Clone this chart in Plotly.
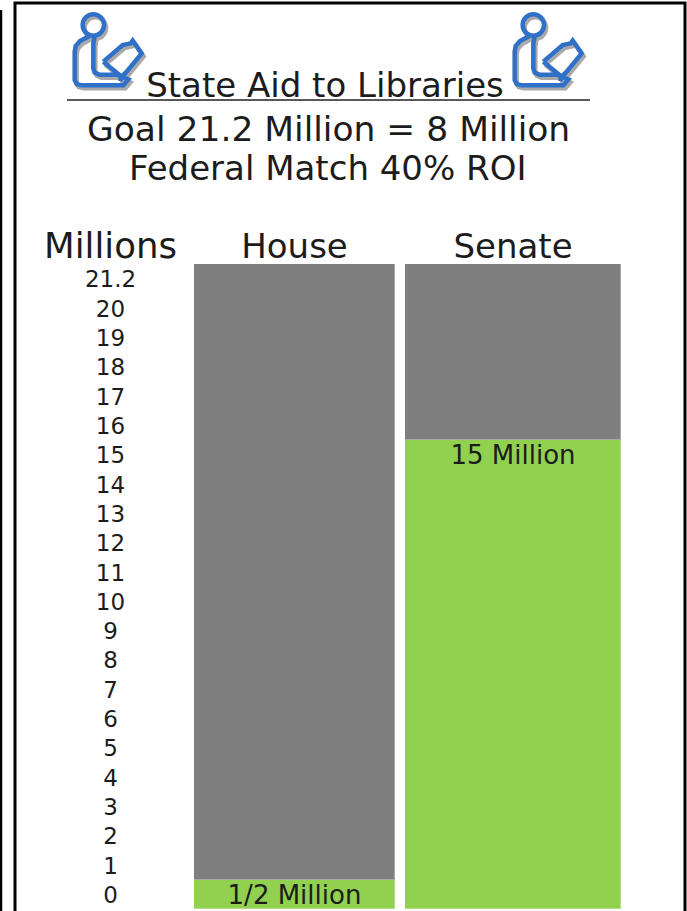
import plotly.graph_objects as go

# Funding ladder: one row per tick, bottom to top
tick_labels = ["0", "1", "2", "3", "4", "5", "6", "7", "8", "9", "10", "11", "12",
               "13", "14", "15", "16", "17", "18", "19", "20", "21.2"]
tick_values = [0, 1, 2, 3, 4, 5, 6, 7, 8, 9, 10, 11, 12,
               13, 14, 15, 16, 17, 18, 19, 20, 21.2]
chambers = ["House", "Senate"]
funded_millions = [0.5, 15]
funded_labels = ["1/2 Million", "15 Million"]

W, H = 687, 911
FONT = "DejaVu Sans"
INK = "#1c1c1c"
GREEN = "#92d050"
GREY = "#7f7f7f"
BLUE = "#2f70c8"
SHADOW = "#a9a9a9"


def px(x):
    return x / W


def py(y):
    return 1 - y / H


# A row is filled once its tick is covered by the funded amount
filled_rows = [sum(t <= v for t in tick_values) for v in funded_millions]
empty_rows = [len(tick_values) - n for n in filled_rows]
row_count = len(tick_labels)

fig = go.Figure()
x_refs = ["x", "x2"]
for i, name in enumerate(chambers):
    fig.add_bar(x=[name], y=[filled_rows[i]], xaxis=x_refs[i], yaxis="y",
                marker=dict(color=GREEN, line=dict(color="#b4de80", width=1)),
                showlegend=False, hoverinfo="skip")
    fig.add_bar(x=[name], y=[empty_rows[i]], xaxis=x_refs[i], yaxis="y",
                marker=dict(color=GREY, line=dict(color="#a8a8a8", width=1)),
                showlegend=False, hoverinfo="skip")
    fig.add_scatter(x=[name], y=[filled_rows[i] - 0.5], xaxis=x_refs[i], yaxis="y2",
                    mode="text", text=[funded_labels[i]], textposition="middle center",
                    textfont=dict(family=FONT, size=26, color=INK),
                    showlegend=False, hoverinfo="skip")

# Row labels sit in their own centred column
fig.add_scatter(x=["Millions"] * row_count,
                y=[r + 0.5 for r in range(row_count)],
                xaxis="x3", yaxis="y2", mode="text", text=tick_labels,
                textposition="middle center",
                textfont=dict(family=FONT, size=23, color=INK),
                showlegend=False, hoverinfo="skip")


def column_axis(left, right, size=34):
    return dict(domain=[px(left), px(right)], anchor="y", side="top", type="category",
                showgrid=False, zeroline=False, showline=False, ticks="",
                ticklen=0, fixedrange=True, ticklabelstandoff=-2,
                tickfont=dict(family=FONT, size=size, color=INK))


def to_page(points):
    return [(60 + a / 3, 10 + b / 3) for a, b in points]


def polyline(points, dx=0, dy=0):
    return "M " + " L ".join(f"{px(a + dx):.5f},{py(b + dy):.5f}" for a, b in to_page(points))


# Reader pictogram outlines
reader_parts = [
    [(88, 78), (60, 93), (47, 108), (44, 125), (44, 210), (50, 222), (65, 226), (190, 226),
     (205, 208), (185, 200), (180, 214)],
    [(104, 78), (100, 100), (100, 175), (104, 188), (118, 194), (172, 194), (185, 200)],
    [(130, 155), (188, 105), (212, 100), (218, 92), (245, 130), (200, 185), (185, 200), (130, 155)],
]
head_centre = (100, 45)
head_radius = 32

shapes = []
for offset in (0, 440):
    for colour, sx, sy in ((SHADOW, 2, 3), (BLUE, 0, 0)):
        for part in reader_parts:
            shapes.append(dict(type="path", xref="paper", yref="paper",
                               path=polyline(part, offset + sx, sy),
                               line=dict(color=colour, width=4.5)))
        cx, cy = to_page([head_centre])[0]
        r = head_radius / 3
        shapes.append(dict(type="circle", xref="paper", yref="paper",
                           x0=px(cx + offset + sx - r), x1=px(cx + offset + sx + r),
                           y0=py(cy + sy + r), y1=py(cy + sy - r),
                           line=dict(color=colour, width=4.5)))

# Title rule and page frame
shapes.append(dict(type="line", xref="paper", yref="paper", x0=px(67), x1=px(590),
                   y0=py(100), y1=py(100), line=dict(color="#222222", width=1.5)))
shapes.append(dict(type="path", xref="paper", yref="paper",
                   path=f"M {px(15)},{py(915)} L {px(15)},{py(3)} L {px(685)},{py(3)} L {px(685)},{py(915)}",
                   line=dict(color="black", width=3)))
shapes.append(dict(type="line", xref="paper", yref="paper", x0=px(1), x1=px(1),
                   y0=py(10), y1=py(915), line=dict(color="black", width=2.5)))

fig.update_layout(
    width=W, height=H, margin=dict(l=0, r=0, t=0, b=0),
    paper_bgcolor="white", plot_bgcolor="white",
    barmode="stack", bargap=0, shapes=shapes, showlegend=False,
    title=dict(text="State Aid to Libraries", x=px(325), xanchor="center", xref="paper",
               y=py(85), yanchor="middle", yref="paper",
               font=dict(family=FONT, size=34, color=INK)),
    xaxis=column_axis(194, 395),
    xaxis2=column_axis(405, 621),
    xaxis3=column_axis(44, 177, size=35.5),
    yaxis=dict(domain=[py(909), py(264)], range=[0, row_count], visible=False,
               fixedrange=True),
    # Text layer: same rows, nudged slightly below the bar rows' centres
    yaxis2=dict(domain=[py(909), py(264)], range=[0.1, row_count + 0.1], visible=False,
                fixedrange=True, overlaying="y"),
    annotations=[
        dict(text="Goal 21.2 Million = 8 Million", xref="paper", yref="paper",
             x=px(328), y=py(129), yanchor="middle", showarrow=False,
             font=dict(family=FONT, size=34.5, color=INK)),
        dict(text="Federal Match 40% ROI", xref="paper", yref="paper",
             x=px(327.5), y=py(168), yanchor="middle", showarrow=False,
             font=dict(family=FONT, size=34, color=INK)),
    ],
)

fig.write_html("out.html", config=dict(displayModeBar=False))
